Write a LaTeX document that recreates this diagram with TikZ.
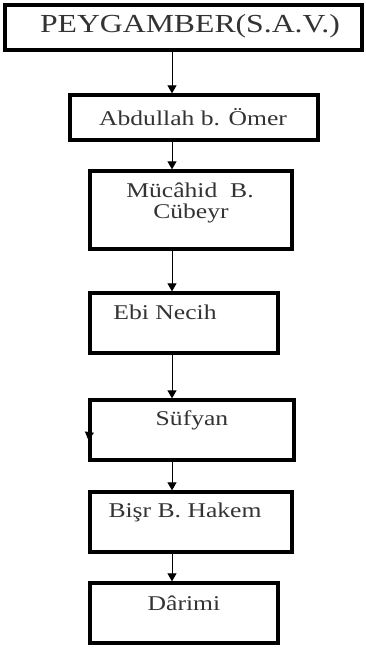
\documentclass[tikz,border=0pt]{standalone}
\usepackage{graphicx}
\usepackage{fontspec}
\setmainfont{Liberation Serif}
\usetikzlibrary{arrows.meta}

\newcommand{\wide}[1]{\scalebox{1.22}[1]{#1}}

\begin{document}
\begin{tikzpicture}[%
        x = 1pt,
        y = -1pt,
        line cap = round,
        font = \fontsize{21}{25}\selectfont,
        box/.style = {
            draw = black,
            line width = 3.3pt,
            rectangle,
            inner sep = 0pt
        },
        boxtext/.style = {
            inner sep = 0pt,
            text = black!80
        },
        arr/.style = {
            line width = 1pt,
            -{Triangle[length=8pt,width=9pt]}
        }
    ]

        \useasboundingbox (0,0) rectangle (365,649);

        % The boxes of the chain.
        \node[box, minimum width = 357pt, minimum height = 45pt] (peygamber) at (183.5,27.5) {};
        \node[box, minimum width = 248pt, minimum height = 45pt] (abdullah) at (194,117.5) {};
        \node[box, minimum width = 202pt, minimum height = 78pt] (mucahid) at (191,210) {};
        \node[box, minimum width = 188pt, minimum height = 60pt] (ebi) at (184,323) {};
        \node[box, minimum width = 204pt, minimum height = 60pt] (sufyan) at (192,430) {};
        \node[box, minimum width = 202pt, minimum height = 60pt] (bisr) at (191,522) {};
        \node[box, minimum width = 188pt, minimum height = 60pt] (darimi) at (184,613) {};

        % Names written in the boxes.
        \node[boxtext, font = \fontsize{26}{30}\selectfont] (peygamber-t) at (190,26) {\wide{PEYGAMBER(S.A.V.)}};
        \node[boxtext] (abdullah-t) at (193,117) {\wide{Abdullah b. Ömer}};
        \node[boxtext] (mucahid-t) at (190,190) {\wide{Mücâhid~~B.}};
        \node[boxtext] (mucahid-u) at (191,213) {\wide{Cübeyr}};
        \node[boxtext] (ebi-t) at (165,312) {\wide{Ebi Necih}};
        \node[boxtext] (sufyan-t) at (192,420) {\wide{Süfyan}};
        \node[boxtext] (bisr-t) at (185,512) {\wide{Bişr B. Hakem}};
        \node[boxtext] (darimi-t) at (184,603) {\wide{Dârimi}};

        % Arrows down the chain.
        \coordinate (xa) at (172,0);
        \draw[arr] (peygamber.south -| xa) to (abdullah.north -| xa);
        \draw[arr] (abdullah.south -| xa) to (mucahid.north -| xa);
        \draw[arr] (mucahid.south -| xa) to (ebi.north -| xa);
        \draw[arr] (ebi.south -| xa) to (sufyan.north -| xa);
        \draw[arr] (sufyan.south -| xa) to (bisr.north -| xa);
        \draw[arr] (bisr.south -| xa) to (darimi.north -| xa);

        % Stray tip on the left side of Sufyan.
        \coordinate (tip) at (90,428);
        \draw[arr] (tip) to ([yshift=-10pt]sufyan.west);
    \end{tikzpicture}
\end{document}
